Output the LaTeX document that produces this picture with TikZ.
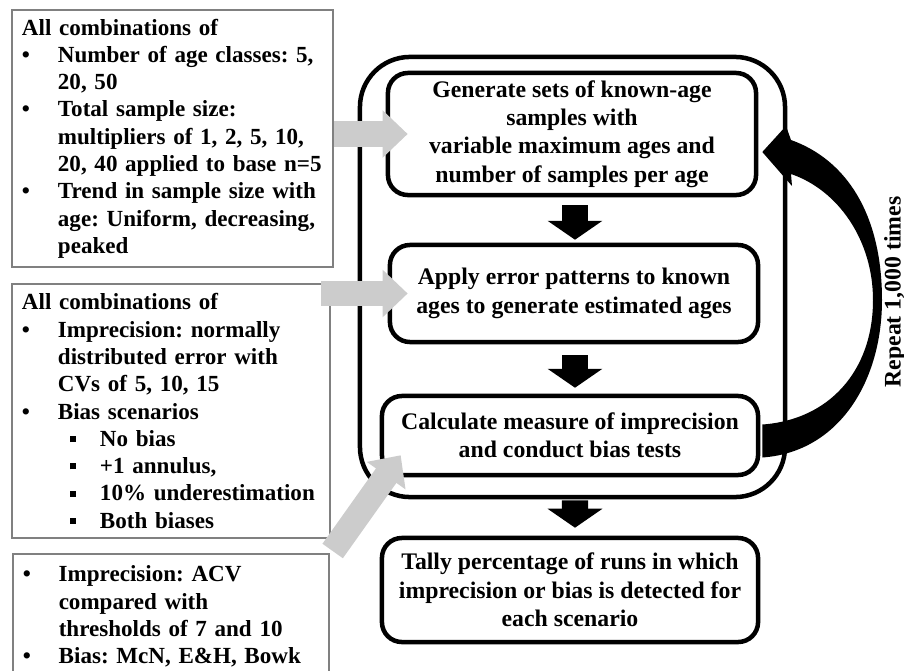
\documentclass[tikz,border=0pt]{standalone}
\usepackage{fontspec}
\setmainfont{Liberation Serif}
\usetikzlibrary{calc,arrows.meta}
\frenchspacing

\newcommand{\bpt}[1]{\mbox{\makebox[25.6pt][l]{\textbullet}#1}}
\newcommand{\bind}[1]{\mbox{\hspace*{25.6pt}#1}}
\newcommand{\sbpt}[1]{\mbox{\hspace*{34pt}\makebox[21.5pt][l]{\rule[3pt]{4.3pt}{4.3pt}}#1}}

\tikzset{
  leftbox/.style={draw=gray, line width=1.1pt, align=left, inner xsep=7.1pt, inner ysep=5pt,
    font=\bfseries\frenchspacing\fontsize{16.4}{19.4}\selectfont},
  stepbox/.style={draw, line width=3.2pt, rounded corners=14.2pt, align=center, inner sep=0pt,
    font=\bfseries\frenchspacing\fontsize{16.9}{20.2}\selectfont},
  feed/.style={draw=gray!40, line width=17.8pt, -{Triangle[length=17.8pt,width=32.7pt]}},
  down/.style={line width=18.5pt, -{Triangle[length=13.5pt,width=38.4pt]}},
  loopback/.style={fill=black}
}

\begin{document}
\begin{tikzpicture}[x=0.025cm,y=-0.025cm]
\useasboundingbox (0,0) rectangle (904,671);
\clip (0,0) rectangle (904,671);

% Scenario boxes
\node[leftbox, text width=214.1pt, minimum height=182.8pt] (setup) at (172.5,138.5) {All combinations of\\
\bpt{Number of age classes: 5,}\\
\bind{20, 50}\\
\bpt{Total sample size:}\\
\bind{multipliers of 1, 2, 5, 10,}\\
\bind{20, 40 applied to base n=5}\\
\bpt{Trend in sample size with}\\
\bind{age: Uniform, decreasing,}\\
\bind{peaked}};
\node[leftbox, text width=212pt, minimum height=180.7pt] (errs) at (171,411) {All combinations of\\
\bpt{Imprecision: normally}\\
\bind{distributed error with}\\
\bind{CVs of 5, 10, 15}\\
\bpt{Bias scenarios}\\
\sbpt{No bias}\\
\sbpt{+1 annulus,}\\
\sbpt{10\% underestimation}\\
\sbpt{Both biases}};
\node[leftbox, anchor=north west, text width=210.6pt, inner ysep=8.5pt, text depth=60pt] (tests) at (12,553) {\bpt{Imprecision: ACV}\\
\bind{compared with}\\
\bind{thresholds of 7 and 10}\\
\bpt{Bias: McN, E\&H, Bowk}};

% Simulation loop
\node[draw, line width=3.2pt, rounded corners=35.6pt, minimum width=302.3pt, minimum height=313pt] (loop) at (572.5,277) {};
\node[stepbox, minimum width=261.8pt, minimum height=86.8pt] (gen) at (572,134) {Generate sets of known-age\\ samples with\\ variable maximum ages and\\ number of samples per age};
\node[stepbox, minimum width=261.8pt, minimum height=69pt] (apply) at (574,293.5) {Apply error patterns to known\\ ages to generate estimated ages};
\node[stepbox, minimum width=267.5pt, minimum height=56.2pt] (measure) at (570,435.5) {Calculate measure of imprecision\\ and conduct bias tests};
\node[stepbox, minimum width=267.5pt, minimum height=74pt] (tally) at (570,590) {Tally percentage of runs in which\\ imprecision or bias is detected for\\ each scenario};

\draw[down] ($(gen.south)+(3,8)$) -- ($(apply.north)+(1,-3)$);
\draw[down] ($(apply.south)+(1,11)$) -- ($(measure.north)+(5,-6)$);
\draw[down] ($(loop.south)+(2.5,1)$) -- ($(tally.north)+(5,-8)$);

% Repeat arrow
\fill[loopback] ($(measure.east)+(2,22)$) .. controls (840,452) and (882,380) .. (882,300)
  .. controls (882,215) and (847,160) .. (791,140) -- (786,126) -- ($(gen.east)+(4,18)$)
  -- (792,186) -- (791,174) .. controls (838,190) and (873,240) .. (873,300)
  .. controls (873,372) and (828,420) .. ($(measure.east)+(2,-11)$) -- cycle;
\node[rotate=90, font=\bfseries\fontsize{16.9}{20.2}\selectfont] (reps) at (895,292) {Repeat 1,000 times};

% Inputs
\draw[feed] (setup.east |- gen.west) -- ($(gen.west)+(22,0)$);
\draw[feed] ($(errs.east |- apply.west)+(-10,0)$) -- ($(apply.west)+(20,0)$);
\draw[feed] ($(tests.north east)+(3,-2)$) -- ($(measure.south west)+(21,-22)$);

\end{tikzpicture}
\end{document}
